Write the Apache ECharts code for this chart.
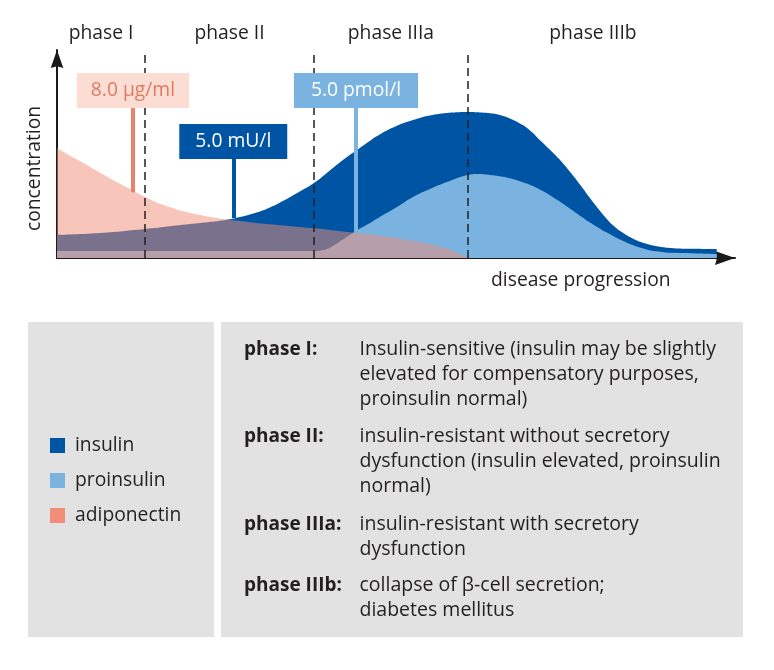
<!DOCTYPE html>
<html>
<head>
<meta charset="utf-8">
<script src="https://cdn.jsdelivr.net/npm/echarts/dist/echarts.min.js"></script>
<style>
html,body{margin:0;padding:0;background:#fff;}
#chart{width:774px;height:670px;}
</style>
</head>
<body>
<div id="chart"></div>
<script>
// ---- data (x: disease progression 0-100, y: concentration 0-100) ----
const insulin = [[0,11.1],[6.3,12.0],[13.0,13.9],[19.6,16.3],[24.8,18.3],[27.0,19.7],[29.2,21.6],[31.4,24.3],[33.6,27.9],[35.8,32.0],[37.9,36.1],[39.8,40.9],[41.7,45.9],[44.0,51.4],[45.9,55.8],[47.6,59.4],[49.9,63.2],[52.5,66.3],[55.0,68.5],[57.5,69.7],[59.1,70.1],[60.6,70.2],[62.4,70.0],[63.9,69.6],[65.3,68.8],[66.8,67.1],[68.7,63.9],[70.1,60.3],[71.2,56.7],[72.4,53.0],[73.7,48.8],[74.9,44.5],[76.1,39.7],[77.3,34.6],[78.6,28.8],[79.8,23.8],[81.1,18.8],[82.3,14.9],[83.5,12.0],[84.7,9.7],[86.0,7.8],[87.2,6.6],[88.5,5.6],[89.7,5.0],[90.9,4.7],[93.4,4.4],[97.3,4.3]];
const proinsulin = [[0,3.4],[21.1,3.4],[38.5,3.4],[39.2,3.8],[40.0,4.6],[40.7,5.8],[41.6,7.7],[42.5,9.6],[43.4,11.5],[44.2,13.2],[45.9,16.3],[47.6,19.7],[49.9,24.0],[52.5,29.3],[55.0,33.2],[57.5,36.5],[59.1,38.5],[60.6,39.9],[62.1,40.4],[63.9,39.9],[65.3,39.3],[66.8,38.3],[68.7,36.4],[70.1,34.7],[71.2,32.9],[72.4,30.8],[73.7,28.1],[74.9,25.5],[76.1,22.7],[77.3,20.0],[78.6,17.1],[79.8,14.7],[81.1,12.2],[82.3,10.1],[83.5,8.2],[84.7,6.5],[86.0,5.0],[87.2,3.9],[88.5,3.2],[89.7,2.7],[90.9,2.5],[93.4,2.3],[97.3,1.9]];
const adiponectin = [[0,52.9],[1.6,49.8],[3.4,46.5],[6.3,41.1],[8.8,36.5],[11.4,32.0],[13.0,29.3],[14.7,26.7],[16.7,24.4],[18.9,22.2],[21.1,20.7],[22.9,19.6],[24.8,18.6],[28.5,17.2],[31.4,16.2],[34.4,15.3],[37.9,14.3],[41.0,13.2],[44.0,12.0],[46.9,11.1],[49.1,10.1],[51.3,8.9],[53.5,7.7],[55.5,6.3],[57.2,4.8],[58.4,3.4],[59.4,1.9],[60.2,0.7],[60.6,0]];
const seriesNames = ['insulin','proinsulin','adiponectin'];

const phaseNames = ['phase I','phase II','phase IIIa','phase IIIb'];
const phaseBounds = [0, 13.0, 37.9, 60.6, 97.5];

const markerLabels = ['8.0 µg/ml','5.0 mU/l','5.0 pmol/l'];
const markerX = [11.2, 26.0, 44.1];
const markerFrom = [31.6, 19.2, 12.5];
const markerTo = [72.1, 47.6, 72.1];

const xAxisName = 'disease progression';
const yAxisName = 'concentration';

const tableLabels = ['phase I:','phase II:','phase IIIa:','phase IIIb:'];
const tableTexts = [
  'Insulin-sensitive (insulin may be slightly\nelevated for compensatory purposes,\nproinsulin normal)',
  'insulin-resistant without secretory\ndysfunction (insulin elevated, proinsulin\nnormal)',
  'insulin-resistant with secretory\ndysfunction',
  'collapse of β-cell secretion;\ndiabetes mellitus'
];

// ---- styles ----
const FONT = "'Open Sans', sans-serif";
const TXT = '#231f20';
const C_INS = '#0054a4';
const C_PRO = '#7ab2e0';
const C_ADI = '#ef8d76';
const C_ADI_LEG = '#f28e78';
const markerStyles = [
  {line:'#e9826a', bg:'#fcddd4', fg:'#e07a60', pad:[8,14]},
  {line:C_INS, bg:C_INS, fg:'#ffffff', pad:[8,16]},
  {line:C_PRO, bg:C_PRO, fg:'#ffffff', pad:[8,17]}
];
const rowTops = [336.8, 424.1, 511.8, 573.4];

const chart = echarts.init(document.getElementById('chart'), null, {renderer:'canvas'});

const arrowPath = 'path://M0,-10L7,10L0,8L-7,10Z';

const option = {
  backgroundColor: '#ffffff',
  animation: false,
  textStyle: {fontFamily: FONT},
  grid: {left:57, top:50, width:678, height:208, outerBoundsMode:'none'},
  xAxis: {
    type:'value', min:0, max:100,
    axisLine:{show:true, onZero:false, symbol:['none', arrowPath], symbolSize:[14,20], symbolOffset:[0,-10], lineStyle:{color:'#1a1a1a', width:2}},
    axisTick:{show:false}, axisLabel:{show:false}, splitLine:{show:false}
  },
  yAxis: {
    type:'value', min:0, max:100,
    axisLine:{show:true, onZero:false, symbol:['none', arrowPath], symbolSize:[14,18], symbolOffset:[0,-9], lineStyle:{color:'#1a1a1a', width:2}},
    axisTick:{show:false}, axisLabel:{show:false}, splitLine:{show:false}
  },
  legend: {
    orient:'vertical', left:50, top:436, padding:0,
    itemWidth:15, itemHeight:15, itemGap:16,
    selectedMode:false,
    textStyle:{fontFamily:FONT, fontSize:19.3, color:TXT, padding:[0,0,0,5]},
    data:[
      {name:seriesNames[0], icon:'rect', itemStyle:{color:C_INS, opacity:1, borderWidth:0}},
      {name:seriesNames[1], icon:'rect', itemStyle:{color:C_PRO, opacity:1, borderWidth:0}},
      {name:seriesNames[2], icon:'rect', itemStyle:{color:C_ADI_LEG, opacity:1, borderWidth:0}}
    ]
  },
  graphic: [
    {type:'rect', shape:{x:28, y:322, width:186, height:315}, style:{fill:'#e2e2e2'}, z:-10, silent:true},
    {type:'rect', shape:{x:221, y:322, width:522, height:315}, style:{fill:'#e2e2e2'}, z:-10, silent:true},
    {type:'text', x:34.5, y:168.5, rotation:Math.PI/2, style:{text:yAxisName, font:"19.3px 'Open Sans'", fill:TXT, textAlign:'center', textVerticalAlign:'middle'}},
    {type:'text', x:580.8, y:281, style:{text:xAxisName, font:"19.3px 'Open Sans'", fill:TXT, textAlign:'center', textVerticalAlign:'middle'}}
  ].concat(tableLabels.map((t,i)=>({
    type:'text', x:244, y:rowTops[i], style:{text:t, font:"bold 19px 'Open Sans'", fill:TXT, textAlign:'left', textVerticalAlign:'top', lineHeight:25}
  }))).concat(tableTexts.map((t,i)=>({
    type:'text', x:359.5, y:rowTops[i], style:{text:t, font:"19.5px 'Open Sans'", fill:TXT, textAlign:'left', textVerticalAlign:'top', lineHeight:25}
  }))),
  series: [
    {
      name:seriesNames[0], type:'line', data:insulin, smooth:true, symbol:'none', showSymbol:false,
      lineStyle:{width:0}, itemStyle:{color:C_INS}, areaStyle:{color:C_INS, opacity:1},
      markLine:{
        silent:true, symbol:['none','none'], label:{show:false},
        lineStyle:{type:[8,5], color:TXT, width:1.5},
        data: phaseBounds.slice(1,4).map(v=>({xAxis:v}))
      },
      markArea:{
        silent:true, itemStyle:{color:'rgba(0,0,0,0)'},
        label:{show:true, position:'top', distance:7, fontFamily:FONT, fontSize:19.3, color:TXT},
        data: phaseNames.map((n,i)=>[{name:n, xAxis:phaseBounds[i]},{xAxis:phaseBounds[i+1]}])
      }
    },
    {
      name:seriesNames[1], type:'line', data:proinsulin, smooth:true, symbol:'none', showSymbol:false,
      lineStyle:{width:0}, itemStyle:{color:C_PRO}, areaStyle:{color:C_PRO, opacity:1}
    },
    {
      name:seriesNames[2], type:'line', data:adiponectin, smooth:true, symbol:'none', showSymbol:false,
      lineStyle:{width:0}, itemStyle:{color:C_ADI}, areaStyle:{color:C_ADI, opacity:0.51},
      markLine:{
        silent:true, symbol:['none','none'],
        data: markerLabels.map((lab,i)=>[
          {coord:[markerX[i], markerFrom[i]],
           lineStyle:{type:'solid', color:markerStyles[i].line, width:4},
           label:{show:true, position:'end', distance:0, formatter:lab, fontFamily:FONT, fontSize:19.3,
                  color:markerStyles[i].fg, backgroundColor:markerStyles[i].bg, padding:markerStyles[i].pad}},
          {coord:[markerX[i], markerTo[i]]}
        ])
      }
    }
  ]
};
chart.setOption(option);
</script>
</body>
</html>
